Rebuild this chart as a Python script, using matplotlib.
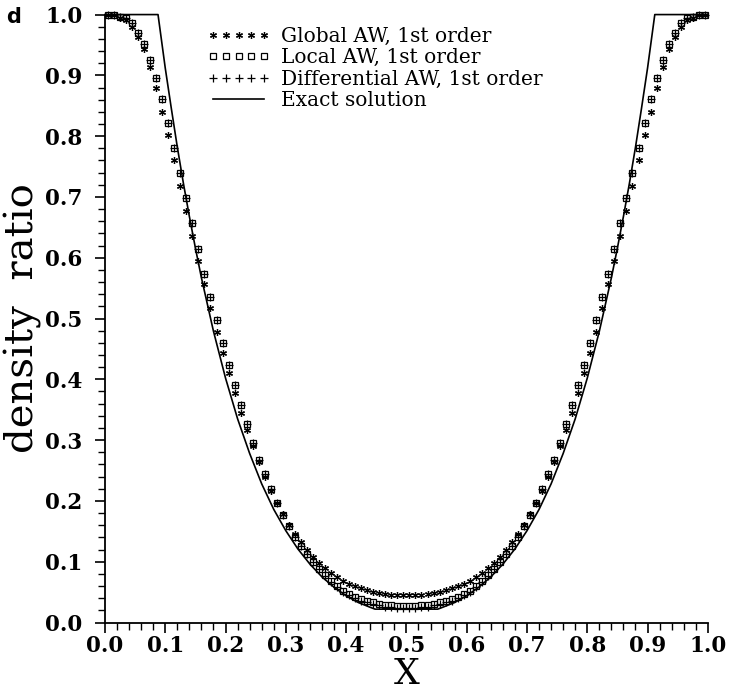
import matplotlib
matplotlib.use("Agg")
import matplotlib.pyplot as plt
import numpy as np
from matplotlib.ticker import MultipleLocator

# cell centres, 100 cells on [0, 1]
x_cells = np.arange(100) * 0.01 + 0.005

global_aw = [
    1.000, 1.000, 0.995, 0.991, 0.980, 0.963, 0.943, 0.914, 0.879, 0.840,
    0.802, 0.761, 0.718, 0.677, 0.636, 0.595, 0.557, 0.517, 0.478, 0.444,
    0.410, 0.377, 0.345, 0.317, 0.290, 0.264, 0.240, 0.217, 0.196, 0.178,
    0.161, 0.146, 0.132, 0.120, 0.108, 0.098, 0.090, 0.082, 0.075, 0.069,
    0.064, 0.060, 0.057, 0.054, 0.051, 0.049, 0.047, 0.046, 0.045, 0.045,
    0.045, 0.045, 0.046, 0.047, 0.049, 0.051, 0.054, 0.057, 0.060, 0.064,
    0.069, 0.075, 0.082, 0.090, 0.098, 0.108, 0.120, 0.132, 0.146, 0.161,
    0.178, 0.196, 0.217, 0.240, 0.264, 0.290, 0.317, 0.345, 0.377, 0.410,
    0.444, 0.478, 0.517, 0.557, 0.595, 0.636, 0.677, 0.718, 0.761, 0.802,
    0.840, 0.879, 0.914, 0.943, 0.963, 0.980, 0.991, 0.995, 1.000, 1.000,
]

local_aw = [
    1.000, 1.000, 0.996, 0.994, 0.986, 0.970, 0.951, 0.926, 0.895, 0.861,
    0.822, 0.780, 0.739, 0.698, 0.657, 0.614, 0.574, 0.535, 0.498, 0.460,
    0.424, 0.391, 0.358, 0.327, 0.296, 0.268, 0.244, 0.219, 0.197, 0.177,
    0.158, 0.141, 0.126, 0.113, 0.100, 0.088, 0.078, 0.068, 0.060, 0.052,
    0.047, 0.042, 0.039, 0.036, 0.033, 0.031, 0.029, 0.028, 0.027, 0.027,
    0.027, 0.027, 0.028, 0.029, 0.031, 0.033, 0.036, 0.039, 0.042, 0.047,
    0.052, 0.060, 0.068, 0.078, 0.088, 0.100, 0.113, 0.126, 0.141, 0.158,
    0.177, 0.197, 0.219, 0.244, 0.268, 0.296, 0.327, 0.358, 0.391, 0.424,
    0.460, 0.498, 0.535, 0.574, 0.614, 0.657, 0.698, 0.739, 0.780, 0.822,
    0.861, 0.895, 0.926, 0.951, 0.970, 0.986, 0.994, 0.996, 1.000, 1.000,
]

differential_aw = [
    1.000, 1.000, 0.996, 0.994, 0.986, 0.970, 0.951, 0.926, 0.895, 0.861,
    0.822, 0.780, 0.739, 0.698, 0.657, 0.614, 0.574, 0.535, 0.498, 0.460,
    0.424, 0.391, 0.358, 0.327, 0.296, 0.268, 0.244, 0.219, 0.197, 0.177,
    0.158, 0.141, 0.126, 0.113, 0.100, 0.088, 0.077, 0.067, 0.058, 0.050,
    0.045, 0.040, 0.036, 0.033, 0.030, 0.028, 0.026, 0.025, 0.024, 0.024,
    0.024, 0.024, 0.025, 0.026, 0.028, 0.030, 0.033, 0.036, 0.040, 0.045,
    0.050, 0.058, 0.067, 0.077, 0.088, 0.100, 0.113, 0.126, 0.141, 0.158,
    0.177, 0.197, 0.219, 0.244, 0.268, 0.296, 0.327, 0.358, 0.391, 0.424,
    0.460, 0.498, 0.535, 0.574, 0.614, 0.657, 0.698, 0.739, 0.780, 0.822,
    0.861, 0.895, 0.926, 0.951, 0.970, 0.986, 0.994, 0.996, 1.000, 1.000,
]

x_exact = [0.0, 0.088, 0.10, 0.11, 0.12, 0.13, 0.14, 0.15, 0.16, 0.18, 0.20,
           0.22, 0.24, 0.26, 0.28, 0.30, 0.32, 0.34, 0.36, 0.38, 0.40, 0.42,
           0.44, 0.448, 0.552, 0.56, 0.58, 0.60, 0.62, 0.64, 0.66, 0.68, 0.70,
           0.72, 0.74, 0.76, 0.78, 0.80, 0.82, 0.84, 0.85, 0.86, 0.87, 0.88,
           0.89, 0.90, 0.912, 1.0]
rho_exact = [1.0, 1.0, 0.912, 0.846, 0.782, 0.723, 0.668, 0.616, 0.567, 0.479,
             0.402, 0.335, 0.278, 0.228, 0.186, 0.151, 0.121, 0.096, 0.075,
             0.058, 0.044, 0.033, 0.025, 0.022, 0.022, 0.025, 0.033, 0.044,
             0.058, 0.075, 0.096, 0.121, 0.151, 0.186, 0.228, 0.278, 0.335,
             0.402, 0.479, 0.567, 0.616, 0.668, 0.723, 0.782, 0.846, 0.912,
             1.0, 1.0]

serif = "DejaVu Serif"

fig = plt.figure(figsize=(7.32, 6.94), dpi=100)
ax = fig.add_axes([0.1434, 0.103, 0.8236, 0.876])

ax.plot(x_cells, global_aw, linestyle="none", marker=(6, 2, 0), ms=5,
        mew=0.9, color="black", label="Global AW, 1st order", clip_on=False)
ax.plot(x_cells, local_aw, linestyle="none", marker="s", ms=5, mew=0.9,
        mfc="none", color="black", label="Local AW, 1st order", clip_on=False)
ax.plot(x_cells, differential_aw, linestyle="none", marker="+", ms=6,
        mew=0.9, color="black", label="Differential AW, 1st order",
        clip_on=False)
ax.plot(x_exact, rho_exact, color="black", lw=1.2, label="Exact solution",
        clip_on=False)

ax.set_xlim(0, 1)
ax.set_ylim(0, 1)
ax.spines["top"].set_visible(False)
ax.spines["right"].set_visible(False)
for s in ["left", "bottom"]:
    ax.spines[s].set_linewidth(1.3)

ax.xaxis.set_major_locator(MultipleLocator(0.1))
ax.xaxis.set_minor_locator(MultipleLocator(0.02))
ax.yaxis.set_major_locator(MultipleLocator(0.1))
ax.yaxis.set_minor_locator(MultipleLocator(0.02))
ax.tick_params(which="major", direction="out", length=7, width=1.2)
ax.tick_params(which="minor", direction="out", length=5, width=1.0)
ax.tick_params(axis="x", pad=2)
ax.tick_params(axis="y", pad=9)
ax.xaxis.set_major_formatter(plt.FuncFormatter(lambda v, p: f"{v:.1f}"))
ax.yaxis.set_major_formatter(plt.FuncFormatter(lambda v, p: f"{v:.1f}"))
for lab in ax.get_xticklabels() + ax.get_yticklabels():
    lab.set_fontfamily(serif)
    lab.set_fontsize(15.5)
    lab.set_fontweight("bold")

ax.set_xlabel("X", fontfamily=serif, fontsize=26, labelpad=0)
ax.set_ylabel("density  ratio", fontfamily=serif, fontsize=29, labelpad=0)
ax.yaxis.set_label_coords(-0.104, 0.5)

ax.legend(loc="upper left", bbox_to_anchor=(0.17, 0.98), frameon=False,
          numpoints=5, handlelength=3.1, handletextpad=0.55, labelspacing=0.12,
          borderpad=0, borderaxespad=0,
          prop={"family": serif, "size": 14.5})

fig.text(0.008, 0.975, "d", fontsize=15, fontweight="bold",
         fontfamily="DejaVu Sans", va="center")

fig.savefig("out.png", dpi=100)
